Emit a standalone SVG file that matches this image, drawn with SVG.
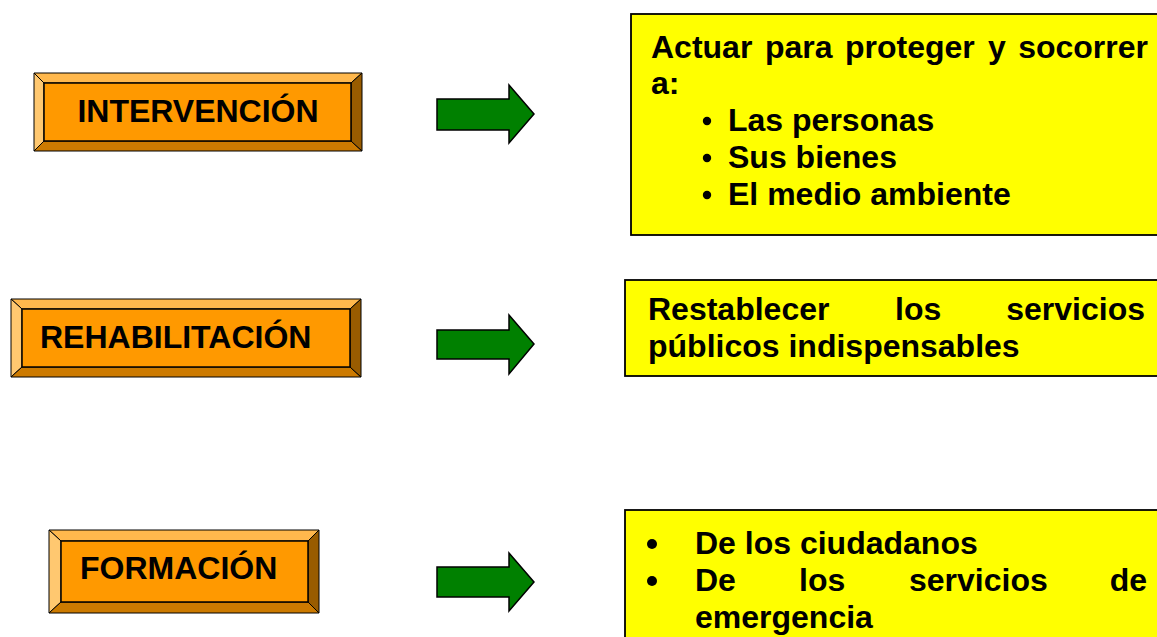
<svg xmlns="http://www.w3.org/2000/svg" width="1157" height="637" viewBox="0 0 1157 637">
<style>
  .t { font-family: "Liberation Sans", Arial, sans-serif; font-weight: bold; font-size: 32px; fill: #000; }
  .bt { fill: #FFB84D; stroke: #000; stroke-width: 1; stroke-linejoin: round; }
  .bl { fill: #FFC870; stroke: #000; stroke-width: 1; stroke-linejoin: round; }
  .bb { fill: #CC7A00; stroke: #000; stroke-width: 1; stroke-linejoin: round; }
  .br { fill: #995C00; stroke: #000; stroke-width: 1; stroke-linejoin: round; }
  .bc { fill: #FF9900; stroke: #000; stroke-width: 1.5; }
  .yb { fill: #FFFF00; stroke: #000; stroke-width: 1.8; }
  .arr { fill: #008000; stroke: #000; stroke-width: 1.5; stroke-linejoin: miter; }
</style>

<g id="intervencion">
  <polygon class="bt" points="34,73 362,73 351,83 44,83"/>
  <polygon class="bl" points="34,73 44,83 44,141 34,151"/>
  <polygon class="bb" points="34,151 44,141 351,141 362,151"/>
  <polygon class="br" points="362,73 362,151 351,141 351,83"/>
  <rect class="bc" x="44" y="83" width="307" height="58"/>
  <text class="t" x="198" y="122" text-anchor="middle">INTERVENCIÓN</text>
</g>

<g id="rehabilitacion">
  <polygon class="bt" points="11,299 361,299 350,309 22,309"/>
  <polygon class="bl" points="11,299 22,309 22,367 11,377"/>
  <polygon class="bb" points="11,377 22,367 350,367 361,377"/>
  <polygon class="br" points="361,299 361,377 350,367 350,309"/>
  <rect class="bc" x="22" y="309" width="328" height="58"/>
  <text class="t" x="40" y="348">REHABILITACIÓN</text>
</g>

<g id="formacion">
  <polygon class="bt" points="49,530 319,530 308,541 61,541"/>
  <polygon class="bl" points="49,530 61,541 61,602 49,613"/>
  <polygon class="bb" points="49,613 61,602 308,602 319,613"/>
  <polygon class="br" points="319,530 319,613 308,602 308,541"/>
  <rect class="bc" x="61" y="541" width="247" height="61"/>
  <text class="t" x="80" y="579">FORMACIÓN</text>
</g>

<g id="connectors">
  <polygon class="arr" points="437,99 509,99 509,85 534,114 509,143 509,130 437,130"/>
  <polygon class="arr" points="437,330 509,330 509,315 534,344 509,374 509,359 437,359"/>
  <polygon class="arr" points="437,567 509,567 509,553 534,582 509,611 509,597 437,597"/>
</g>

<g id="desc-intervencion">
  <rect class="yb" x="631" y="14" width="540" height="221"/>
  <text class="t" y="58">
    <tspan x="651">Actuar</tspan><tspan x="765">para</tspan><tspan x="845">proteger</tspan><tspan x="988">y</tspan><tspan x="1148" text-anchor="end">socorrer</tspan>
  </text>
  <text class="t" x="651" y="94">a:</text>
  <circle cx="707" cy="121" r="4.2" fill="#000"/>
  <circle cx="707" cy="158" r="4.2" fill="#000"/>
  <circle cx="707" cy="195" r="4.2" fill="#000"/>
  <text class="t" x="728" y="131">Las personas</text>
  <text class="t" x="728" y="168">Sus bienes</text>
  <text class="t" x="728" y="205">El medio ambiente</text>
</g>

<g id="desc-rehabilitacion">
  <rect class="yb" x="625" y="280" width="545" height="96"/>
  <text class="t" y="320">
    <tspan x="648">Restablecer</tspan><tspan x="895">los</tspan><tspan x="1145" text-anchor="end">servicios</tspan>
  </text>
  <text class="t" x="648" y="357">públicos indispensables</text>
</g>

<g id="desc-formacion">
  <rect class="yb" x="625" y="510" width="545" height="140"/>
  <circle cx="652" cy="544" r="5" fill="#000"/>
  <circle cx="652" cy="581" r="5" fill="#000"/>
  <text class="t" x="695" y="554">De los ciudadanos</text>
  <text class="t" y="591">
    <tspan x="695">De</tspan><tspan x="799">los</tspan><tspan x="909">servicios</tspan><tspan x="1147" text-anchor="end">de</tspan>
  </text>
  <text class="t" x="695" y="628">emergencia</text>
</g>
</svg>
